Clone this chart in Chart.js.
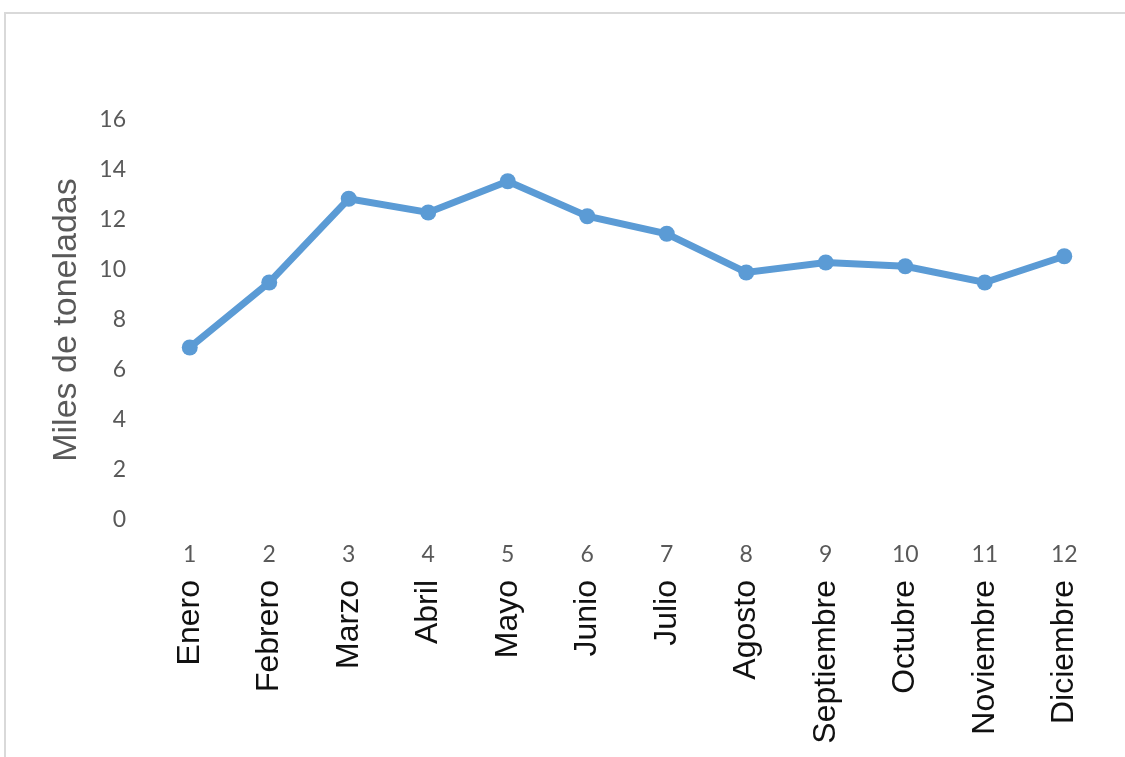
<!DOCTYPE html>
<html>
<head>
<meta charset="utf-8">
<script src="https://cdn.jsdelivr.net/npm/chart.js@4"></script>
<style>
  html, body { margin: 0; padding: 0; background: #fff; overflow: hidden; }
  #marco { position: absolute; left: 4px; top: 12px; width: 1200px; height: 800px;
           border: 2px solid #d9d9d9; box-sizing: border-box; }
  #grafico { position: absolute; left: 0; top: 0; }
</style>
</head>
<body>
<div id="marco"></div>
<canvas id="grafico" width="1125" height="757"></canvas>
<script>
const numeros = ['1', '2', '3', '4', '5', '6', '7', '8', '9', '10', '11', '12'];
const meses = ['Enero', 'Febrero', 'Marzo', 'Abril', 'Mayo', 'Junio', 'Julio',
    'Agosto', 'Septiembre', 'Octubre', 'Noviembre', 'Diciembre'];
const toneladas = [6.9, 9.5, 12.85, 12.3, 13.55, 12.15, 11.45, 9.9, 10.3, 10.15, 9.5, 10.55];
const ticksY = [0, 2, 4, 6, 8, 10, 12, 14, 16];

window.onload = () => {
    const azul = '#5B9BD5';
    const gris = '#595959';
    const contexto = document.getElementById('grafico');

    new Chart(contexto, {
        type: 'line',
        data: {
            labels: numeros,
            datasets: [{
                data: toneladas,
                borderColor: azul,
                backgroundColor: azul,
                borderWidth: 7,
                pointRadius: 8,
                pointBackgroundColor: azul,
                pointBorderWidth: 0,
                tension: 0
            }]
        },
        options: {
            responsive: false,
            animation: false,
            layout: { padding: { left: 46, right: 21, top: 120, bottom: 0 } },
            plugins: { legend: { display: false }, tooltip: { enabled: false } },
            scales: {
                y: {
                    min: 0,
                    max: 16,
                    afterBuildTicks: escala => { escala.ticks = ticksY.map(v => ({ value: v })); },
                    afterFit: escala => { escala.width = 104; },
                    grid: { display: false, drawTicks: false },
                    border: { display: false },
                    ticks: { color: gris, padding: 24, font: { family: 'Lato', size: 23 } },
                    title: {
                        display: true,
                        text: 'Miles de toneladas',
                        color: gris,
                        padding: { top: 0, bottom: 0 },
                        font: { family: 'Liberation Sans', size: 34 }
                    }
                },
                x: {
                    offset: true,
                    weight: 0,
                    afterFit: escala => { escala.height = 47; },
                    grid: { display: false, drawTicks: false },
                    border: { display: false },
                    ticks: {
                        color: gris, padding: 21, maxRotation: 0, autoSkip: false,
                        font: { family: 'Lato', size: 23 }
                    }
                },
                x2: {
                    type: 'category',
                    position: 'bottom',
                    labels: meses,
                    offset: true,
                    weight: 1,
                    afterFit: escala => { escala.height = 190; },
                    grid: { display: false, drawTicks: false },
                    border: { display: false },
                    ticks: {
                        color: '#111', padding: 13, minRotation: 90, maxRotation: 90, autoSkip: false,
                        font: { family: 'Liberation Sans', size: 32 }
                    }
                }
            }
        }
    });
}
</script>
</body>
</html>
